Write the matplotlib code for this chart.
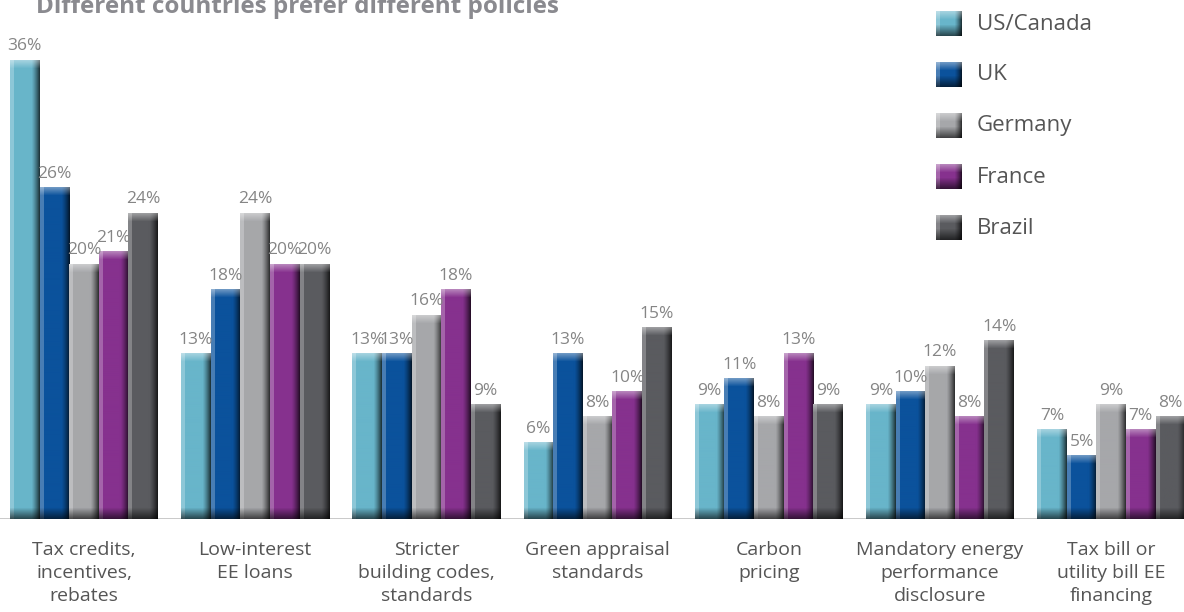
import matplotlib
matplotlib.use("Agg")
import matplotlib.pyplot as plt
import matplotlib.colors as mcolors
import numpy as np

plt.rcParams['font.family'] = ['Open Sans', 'DejaVu Sans']

# survey shares (%) per policy, one list per country
policies = ['Tax credits,\nincentives,\nrebates', 'Low-interest\nEE loans',
            'Stricter\nbuilding codes,\nstandards', 'Green appraisal\nstandards',
            'Carbon\npricing', 'Mandatory energy\nperformance\ndisclosure',
            'Tax bill or\nutility bill EE\nfinancing']
countries = ['US/Canada', 'UK', 'Germany', 'France', 'Brazil']
us_canada = [36, 13, 13, 6, 9, 9, 7]
uk = [26, 18, 13, 13, 11, 10, 5]
germany = [20, 24, 16, 8, 8, 12, 9]
france = [21, 20, 18, 10, 13, 8, 7]
brazil = [24, 20, 9, 15, 9, 14, 8]
colors = ['#68b5ca', '#0b529c', '#a6a7aa', '#86318e', '#5a5b5f']

series = [us_canada, uk, germany, france, brazil]


def bevel(color, w, h):
    """Return an RGB image giving a bar a raised, bevelled look."""
    base = np.array(mcolors.to_rgb(color))
    w = max(int(w), 2)
    h = max(int(h), 2)
    xs = np.linspace(0, 1, w)
    dark = np.clip((xs - 0.72) / 0.28, 0, 1) ** 1.3 * 0.7
    light = np.where(xs < 0.13, 0.25, 0.0)
    row = base[None, :] * (1 - dark)[:, None]
    row = row + (1 - row) * light[:, None]
    img = np.repeat(row[None, :, :], h, axis=0)
    ys = np.arange(h)
    # highlight along the top edge
    top = np.clip(1 - ys / 8.0, 0, 1) * 0.4
    img = img + (1 - img) * top[:, None, None]
    # shadow along the bottom edge
    bot = np.clip(1 - (h - 1 - ys) / 11.0, 0, 1) * 0.6
    img = img * (1 - bot)[:, None, None]
    return np.clip(img, 0, 1)


fig = plt.figure(figsize=(11.84, 6.12), dpi=100)
ax = fig.add_axes([0, 93 / 612, 1, 519 / 612])

px_per_unit = 12.75
n = len(countries)
width = 0.1729
x = np.arange(len(policies))

for j, (vals, c) in enumerate(zip(series, colors)):
    offs = x - width * n / 2 + width * (j + 0.5)
    bars = ax.bar(offs, vals, width=width, color=c, zorder=2)
    for b, v in zip(bars, vals):
        x0, w_, h_ = b.get_x(), b.get_width(), b.get_height()
        img = bevel(c, 30, h_ * px_per_unit)
        ax.imshow(img, extent=(x0, x0 + w_, 0, h_), aspect='auto',
                  interpolation='bilinear', zorder=3)
        ax.annotate(f'{v}%', xy=(x0 + w_ / 2, h_), xytext=(0, 4),
                    textcoords='offset points', ha='center', va='bottom',
                    fontsize=12.5, color='#858585', zorder=4)

ax.axhline(0, color='#c4c4c4', lw=2, zorder=1)
ax.set_xlim(-84 / 171.2, (1184 - 84) / 171.2)
ax.set_ylim(0, 519 / px_per_unit)
ax.set_xticks(x)
ax.set_xticklabels(policies, fontsize=14, color='#555555', linespacing=1.35)
ax.tick_params(axis='x', length=0, pad=16)
ax.set_yticks([])
for s in ax.spines.values():
    s.set_visible(False)

fig.text(36 / 1184, 1 - 13 / 612, 'Different countries prefer different policies',
         fontsize=17.5, fontweight='bold', color='#8a8a8f', va='baseline')

# legend with bevelled swatches
for j, (name, c) in enumerate(zip(countries, colors)):
    top = 11 + 51 * j
    lax = fig.add_axes([936 / 1184, 1 - (top + 25) / 612, 26 / 1184, 25 / 612])
    lax.imshow(bevel(c, 26, 25), aspect='auto', interpolation='bilinear')
    lax.axis('off')
    fig.text(977 / 1184, 1 - (top + 13) / 612, name, fontsize=16,
             color='#555555', va='center')

fig.savefig('out.png', dpi=100)
